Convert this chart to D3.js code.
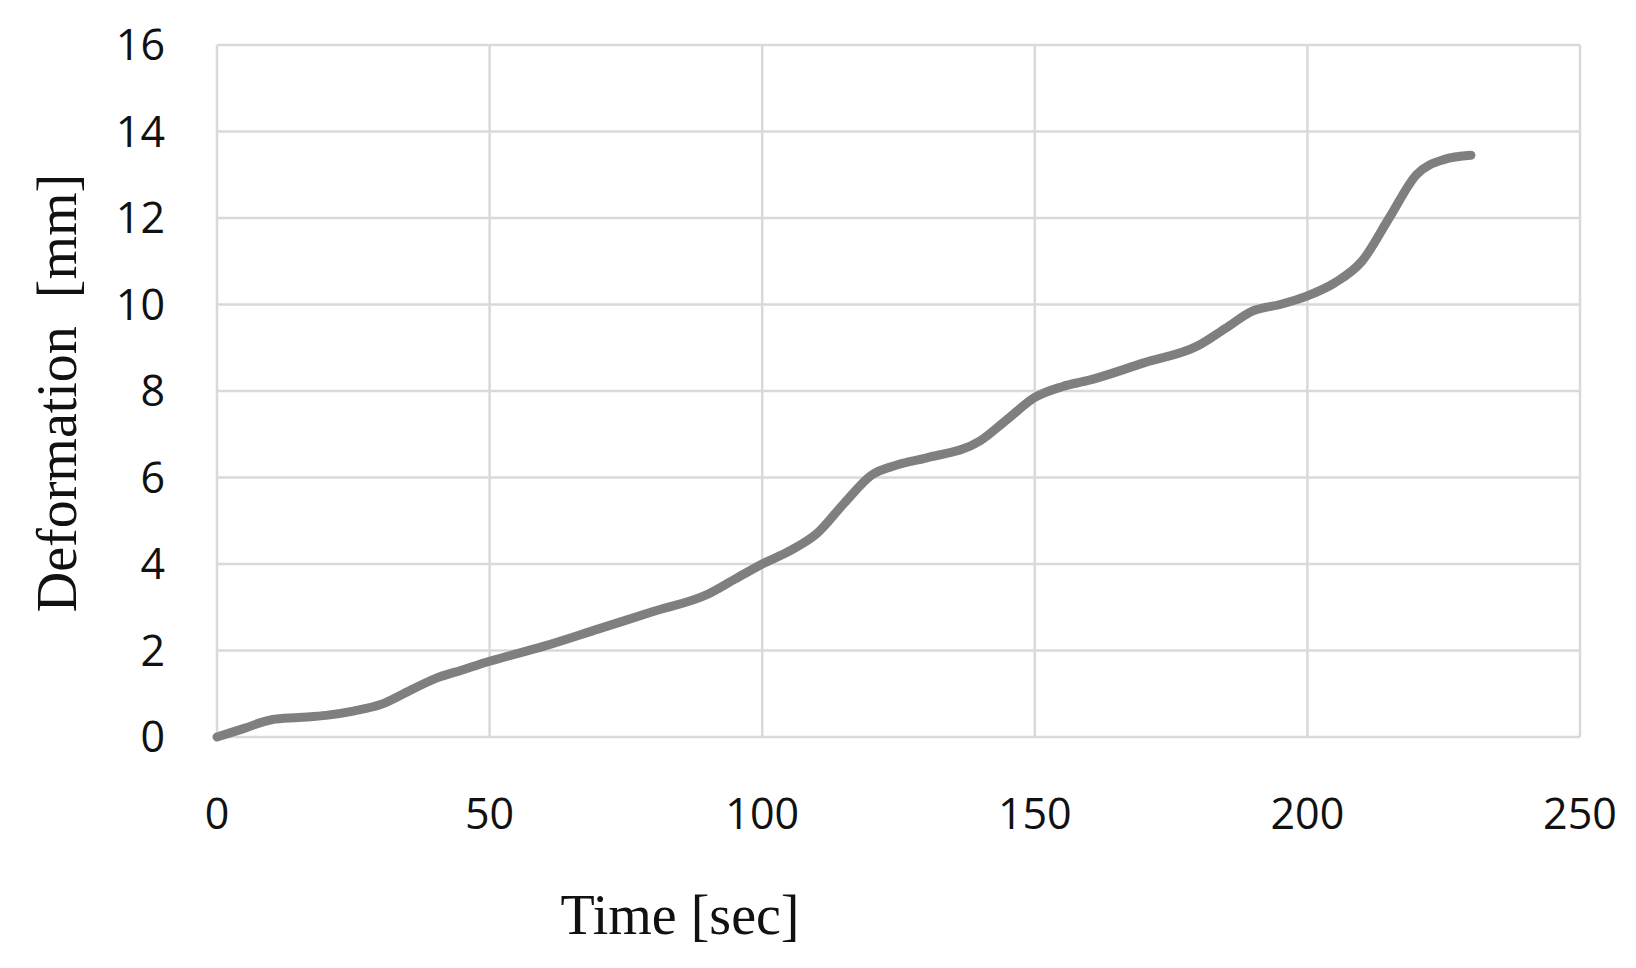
<!DOCTYPE html>
<html><head><meta charset="utf-8">
<script src="https://cdn.jsdelivr.net/npm/d3@7"></script>
<style>body{margin:0;background:#fff}</style></head>
<body><svg id="c" width="1636" height="968"></svg>
<script>
const timeSec = [0,5,10,15,20,25,30,35,40,45,50,60,70,80,90,95,100,105,110,115,120,125,130,140,145,150,155,160,170,180,185,190,195,200,205,210,215,220,225,230];
const deformationMm = [0,0.2,0.4,0.45,0.5,0.6,0.75,1.05,1.35,1.55,1.75,2.1,2.5,2.9,3.3,3.65,4.0,4.3,4.7,5.4,6.05,6.3,6.45,6.85,7.35,7.85,8.1,8.25,8.65,9.05,9.45,9.85,10.0,10.2,10.5,11.0,12.0,13.0,13.35,13.45];
const xTicks = [0,50,100,150,200,250];
const yTicks = [0,2,4,6,8,10,12,14,16];

const svg = d3.select("#c");
const x = d3.scaleLinear().domain([0,250]).range([217,1580]);
const y = d3.scaleLinear().domain([0,16]).range([737,45]);

const g = svg.append("g");
g.selectAll(".vx").data(xTicks).join("line")
  .attr("x1",d=>x(d)).attr("x2",d=>x(d)).attr("y1",y(0)).attr("y2",y(16))
  .attr("stroke","#d9d9d9").attr("stroke-width",2.5);
g.selectAll(".hy").data(yTicks).join("line")
  .attr("x1",x(0)).attr("x2",x(250)).attr("y1",d=>y(d)).attr("y2",d=>y(d))
  .attr("stroke","#d9d9d9").attr("stroke-width",2.5);

const font = "'Open Sans', 'Noto Sans', sans-serif";
g.selectAll(".xl").data(xTicks).join("text")
  .attr("x",d=>x(d)).attr("y",829).attr("text-anchor","middle")
  .attr("font-family",font).attr("font-size",43).attr("fill","#111").text(d=>d);
g.selectAll(".yl").data(yTicks).join("text")
  .attr("x",165).attr("y",d=>y(d)+15).attr("text-anchor","end")
  .attr("font-family",font).attr("font-size",43).attr("fill","#111").text(d=>d);

const line = d3.line().x((d,i)=>x(timeSec[i])).y(d=>y(d)).curve(d3.curveMonotoneX);
svg.append("path").attr("d",line(deformationMm)).attr("fill","none")
  .attr("stroke","#7f7f7f").attr("stroke-width",9).attr("stroke-linecap","round");

svg.append("text").attr("x",680).attr("y",934).attr("text-anchor","middle")
  .attr("font-family","'Liberation Serif', serif").attr("font-size",56).attr("fill","#111").text("Time [sec]");
svg.append("text").attr("transform","translate(76,393) rotate(-90)").attr("text-anchor","middle")
  .attr("font-family","'Liberation Serif', serif").attr("font-size",56).attr("fill","#111")
  .attr("xml:space","preserve").text("Deformation  [mm]");
</script></body></html>
